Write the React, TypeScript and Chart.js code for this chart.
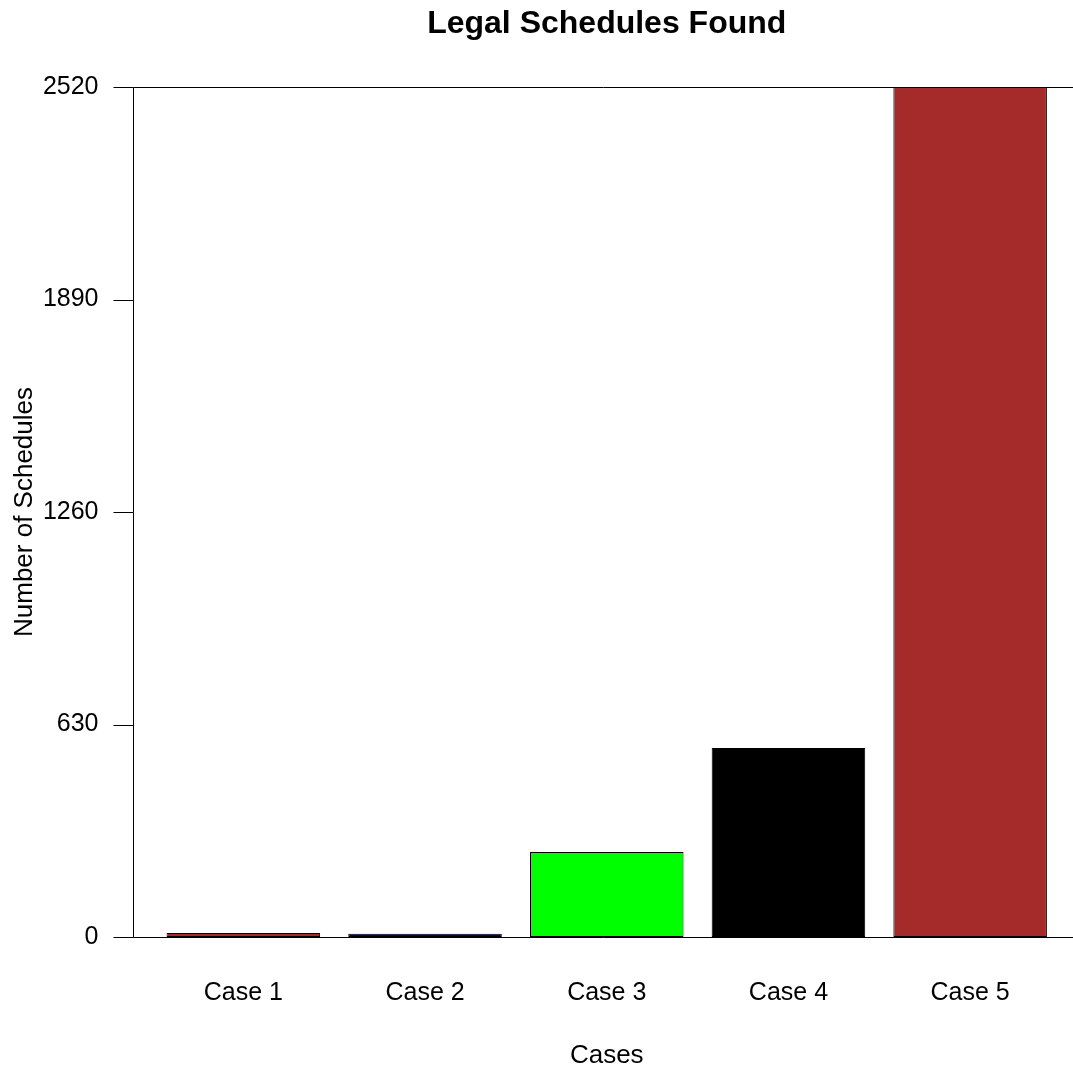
import { useEffect, useRef } from "react";
import { Chart, registerables } from "chart.js";

Chart.register(...registerables);

const categories = ["Case 1", "Case 2", "Case 3", "Case 4", "Case 5"];
const scheduleCounts = [12, 10, 252, 560, 2520];
const barColors = ["#A52A2A", "#000080", "#00FF00", "#000000", "#A52A2A"];
const yTickValues = [0, 630, 1260, 1890, 2520];
const chartTitle = "Legal Schedules Found";
const xAxisTitle = "Cases";
const yAxisTitle = "Number of Schedules";

const FONT = "'Liberation Sans', Arial, sans-serif";

const framePlugin = {
  id: "rFrame",
  afterDraw(chart: any) {
    const { ctx, chartArea, width } = chart;
    const yScale = chart.scales.y;
    const snap = (v: number) => Math.round(v) + 0.5;
    const axisX = snap(chartArea.left - 20);
    const top = snap(chartArea.top);
    const bottom = snap(chartArea.bottom);
    ctx.save();
    ctx.strokeStyle = "#000";
    ctx.lineWidth = 1;
    ctx.beginPath();
    ctx.moveTo(axisX, top);
    ctx.lineTo(axisX, bottom);
    ctx.moveTo(axisX, top);
    ctx.lineTo(width, top);
    ctx.moveTo(axisX, bottom);
    ctx.lineTo(width, bottom);
    for (const t of yScale.ticks) {
      const p = snap(yScale.getPixelForValue(t.value));
      ctx.moveTo(axisX - 20, p);
      ctx.lineTo(axisX, p);
    }
    ctx.stroke();
    ctx.restore();
  },
};

export default function App() {
  const canvasRef = useRef<HTMLCanvasElement | null>(null);

  useEffect(() => {
    document.body.style.margin = "0";
    const canvas = canvasRef.current;
    if (!canvas) return;
    const chart = new Chart(canvas, {
      type: "bar",
      data: {
        labels: categories,
        datasets: [
          {
            data: scheduleCounts,
            backgroundColor: barColors,
            borderColor: "#000",
            borderWidth: 1,
            borderSkipped: false,
            barPercentage: 0.845,
            categoryPercentage: 1,
          },
        ],
      },
      options: {
        responsive: false,
        animation: false,
        devicePixelRatio: 1,
        layout: { padding: { left: 0, right: 12, top: 0, bottom: 0 } },
        plugins: {
          legend: { display: false },
          tooltip: { enabled: false },
          title: {
            display: true,
            text: chartTitle,
            fullSize: false,
            color: "#000",
            font: { family: FONT, size: 32, weight: "bold", lineHeight: 1.2 },
            padding: { top: 5, bottom: 43.6 },
          },
        },
        scales: {
          x: {
            type: "category",
            grid: { display: false, drawTicks: false },
            border: { display: false },
            ticks: {
              color: "#000",
              font: { family: FONT, size: 25, lineHeight: 1.2 },
              padding: 41,
              maxRotation: 0,
              autoSkip: false,
            },
            title: {
              display: true,
              text: xAxisTitle,
              color: "#000",
              font: { family: FONT, size: 26, lineHeight: 1.2 },
              padding: { top: 0, bottom: -1 },
            },
            afterFit: (scale: any) => {
              scale.height = 133;
            },
          },
          y: {
            type: "linear",
            min: 0,
            max: 2520,
            grid: { display: false, drawTicks: false },
            border: { display: false },
            afterBuildTicks: (scale: any) => {
              scale.ticks = yTickValues.map((v) => ({ value: v }));
            },
            ticks: {
              color: "#000",
              font: { family: FONT, size: 25, lineHeight: 1.2 },
              padding: 54,
              callback: (v: any) => String(v),
            },
            title: {
              display: true,
              text: yAxisTitle,
              color: "#000",
              font: { family: FONT, size: 26, lineHeight: 1.2 },
              padding: { top: 9.4, bottom: 0 },
            },
            afterFit: (scale: any) => {
              scale.width = 152.5;
            },
          },
        },
      },
      plugins: [framePlugin],
    });
    return () => chart.destroy();
  }, []);

  return (
    <div style={{ width: 1073, height: 1070, background: "#fff" }}>
      <canvas ref={canvasRef} width={1073} height={1070} style={{ display: "block" }} />
    </div>
  );
}
